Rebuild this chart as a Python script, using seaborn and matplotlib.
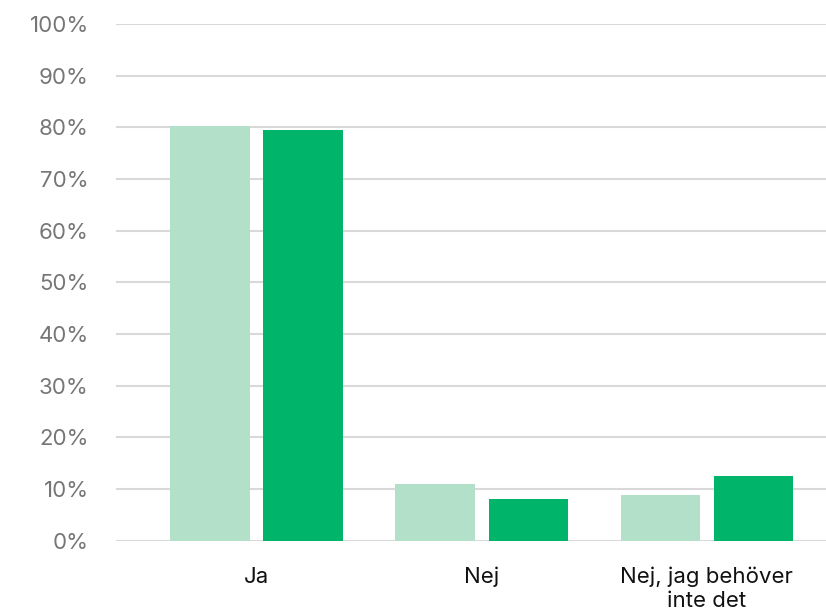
import matplotlib
matplotlib.use("Agg")
import matplotlib.pyplot as plt
import seaborn as sns
import pandas as pd
from matplotlib.ticker import FuncFormatter

categories = ["Ja", "Nej", "Nej, jag behöver\ninte det"]
series_names = ["Serie 1", "Serie 2"]
series1 = [80.3, 10.9, 8.8]
series2 = [79.5, 8.0, 12.4]
yticks = list(range(0, 101, 10))

rows = []
for c, a, b in zip(categories, series1, series2):
    rows.append({"kategori": c, "serie": series_names[0], "värde": a})
    rows.append({"kategori": c, "serie": series_names[1], "värde": b})
df = pd.DataFrame(rows)

sns.set_theme(style="white")
plt.rcParams["font.family"] = ["Inter", "DejaVu Sans"]

fig = plt.figure(figsize=(8.26, 6.14), dpi=100)
ax = fig.add_axes([0.141, 0.1197, 0.859, 0.8413])

palette = ["#b3e0c8", "#00b46a"]
sns.barplot(data=df, x="kategori", y="värde", hue="serie", palette=palette,
            width=0.827, gap=0.15, ax=ax, legend=False, saturation=1,
            order=categories, hue_order=series_names, linewidth=0)

ax.set_ylim(0, 100)
ax.set_xlim(-0.622, 2.53)
ax.set_yticks(yticks)
ax.yaxis.set_major_formatter(FuncFormatter(lambda v, p: f"{int(v)}%"))
ax.grid(axis="y", color="#d9d9d9", linewidth=1.5)
ax.set_axisbelow(True)
for s in ax.spines.values():
    s.set_visible(False)
ax.set_xlabel("")
ax.set_ylabel("")
ax.tick_params(axis="y", length=0, pad=20, labelsize=16, labelcolor="#767676")
ax.tick_params(axis="x", length=0, pad=19, labelsize=16, labelcolor="#111111")
for lbl in ax.get_xticklabels():
    lbl.set_linespacing(1.25)

fig.savefig("out.png", dpi=100)
